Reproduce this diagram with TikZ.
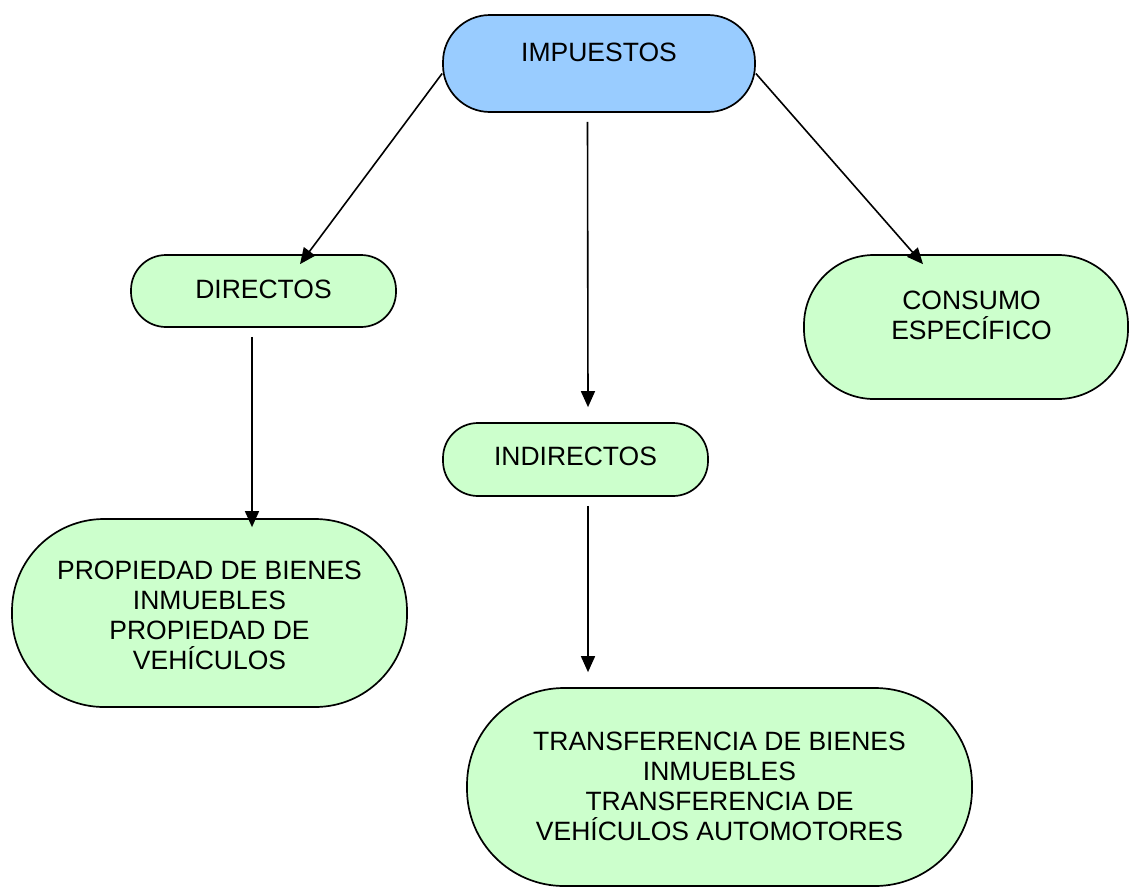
\documentclass[tikz,border=0pt]{standalone}
\usepackage{fontspec}
\setmainfont{Liberation Sans}
\usetikzlibrary{arrows.meta}
\definecolor{azul}{HTML}{99CCFF}
\definecolor{verde}{HTML}{CCFFCC}

\begin{document}
\begin{tikzpicture}[
      x=1pt, y=-1pt,
      caja/.style={rectangle, draw=black, line width=1.7pt, fill=verde, inner sep=0pt},
      texto/.style={align=center, inner sep=0pt, font=\fontsize{26.5}{30}\selectfont},
      flecha/.style={-{Triangle[length=16pt,width=14pt]}, line width=1.6pt}
      ]

    \clip (0,0) rectangle (1129,886);

    % cajas
    \node[caja, fill=azul, minimum width=312, minimum height=97, rounded corners=47,
          label={[texto, yshift=11]center:IMPUESTOS}] (impuestos) at (599,63.5) {};
    \node[caja, minimum width=265, minimum height=72, rounded corners=35,
          label={[texto, yshift=1.5]center:DIRECTOS}] (directos) at (263.5,291) {};
    \node[caja, minimum width=265, minimum height=73, rounded corners=35,
          label={[texto, yshift=3.5]center:INDIRECTOS}] (indirectos) at (575.5,459.5) {};
    \node[caja, minimum width=324, minimum height=144, rounded corners=70,
          label={[texto, yshift=12, xshift=5.5]center:CONSUMO\\ESPECÍFICO}] (consumo) at (966,327) {};
    \node[caja, minimum width=395, minimum height=188, rounded corners=92,
          label={[texto, yshift=-2.5]center:PROPIEDAD DE BIENES\\INMUEBLES\\PROPIEDAD DE\\VEHÍCULOS}] (propiedad) at (209.5,613) {};
    \node[caja, minimum width=505, minimum height=198, rounded corners=97,
          label={[texto, yshift=1]center:TRANSFERENCIA DE BIENES\\INMUEBLES\\TRANSFERENCIA DE\\VEHÍCULOS AUTOMOTORES}] (transferencia) at (719.5,787) {};

    % flechas
    \draw[flecha] ([yshift=-10]impuestos.west) -- ([xshift=36.5, yshift=-10]directos.north);
    \draw[flecha] ([xshift=-11.5, yshift=-9]impuestos.south) -- ([xshift=12.5, yshift=15]indirectos.north);
    \draw[flecha] ([yshift=-10]impuestos.east) -- ([xshift=-43, yshift=-10]consumo.north);
    \draw[flecha] ([xshift=-11.5, yshift=-9]directos.south) -- ([xshift=42.5, yshift=-9]propiedad.north);
    \draw[flecha] ([xshift=12.5, yshift=-9]indirectos.south) -- ([xshift=-131.5, yshift=15]transferencia.north);

\end{tikzpicture}
\end{document}
